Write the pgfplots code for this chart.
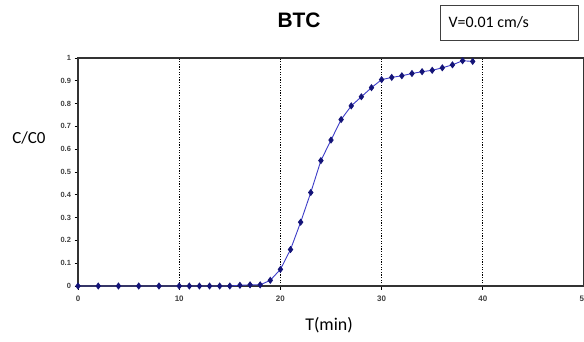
\documentclass[border=0pt]{standalone}
\usepackage{fontspec}
\setmainfont{Liberation Sans}
\newfontfamily\calib{Carlito}
\usepackage{pgfplots}
\pgfplotsset{compat=1.18}
\definecolor{ln}{RGB}{60,60,200}
\definecolor{mk}{RGB}{20,20,120}
\begin{document}
\begin{tikzpicture}[x=1bp,y=1bp]
\path[use as bounding box] (0,0) rectangle (584,341);
\begin{axis}[
  at={(78bp,55bp)}, anchor=south west,
  scale only axis, width=506bp, height=228bp,
  xmin=0, xmax=50, ymin=0, ymax=1,
  xtick={0,10,20,30,40,50},
  ytick={0,0.1,0.2,0.3,0.4,0.5,0.6,0.7,0.8,0.9,1},
  yticklabels={0,0.1,0.2,0.3,0.4,0.5,0.6,0.7,0.8,0.9,1},
  xticklabels={0,10,20,30,40,50},
  tick align=outside, major tick length=3.5bp,
  tick style={black, line width=0.9bp},
  xtick pos=bottom, ytick pos=left,
  yticklabel style={font=\fontsize{7.5}{8}\selectfont\bfseries, text=black!75},
  xticklabel style={font=\fontsize{8}{9}\selectfont\bfseries, text=black!75, yshift=-3bp},
  axis line style={black!80, line width=1.2bp},
  xmajorgrids, major grid style={black, dash pattern=on 1.3bp off 1.3bp, line width=1.3bp},
  clip=false,
]
\addplot[ln, line width=0.9bp, mark=diamond*, mark size=2.9bp, mark options={fill=mk, draw=mk, solid}] coordinates {
(0,0) (2,0) (4,0) (6,0) (8,0) (10,0) (11,0) (12,0) (13,0) (14,0) (15,0)
(16,0.003) (17,0.005) (18,0.005) (19,0.025) (20,0.073) (21,0.16) (22,0.28)
(23,0.41) (24,0.55) (25,0.64) (26,0.73) (27,0.79) (28,0.83) (29,0.87)
(30,0.905) (31,0.915) (32,0.922) (33,0.932) (34,0.94) (35,0.946) (36,0.957)
(37,0.97) (38,0.988) (39,0.985)
};
\end{axis}
\node[font=\bfseries\fontsize{21}{22}\selectfont] at (299,320.5) {BTC};
\draw[black!75, line width=0.9bp] (440,301) rectangle (578,336);
\node[font=\calib\fontsize{16}{17}\selectfont, anchor=west] at (445,318.5) {V=0.01 cm/s};
\node[font=\calib\fontsize{17}{18}\selectfont] at (29,203) {C/C0};
\node[font=\calib\fontsize{18}{19}\selectfont] at (329,16) {T(min)};
\end{tikzpicture}
\end{document}
